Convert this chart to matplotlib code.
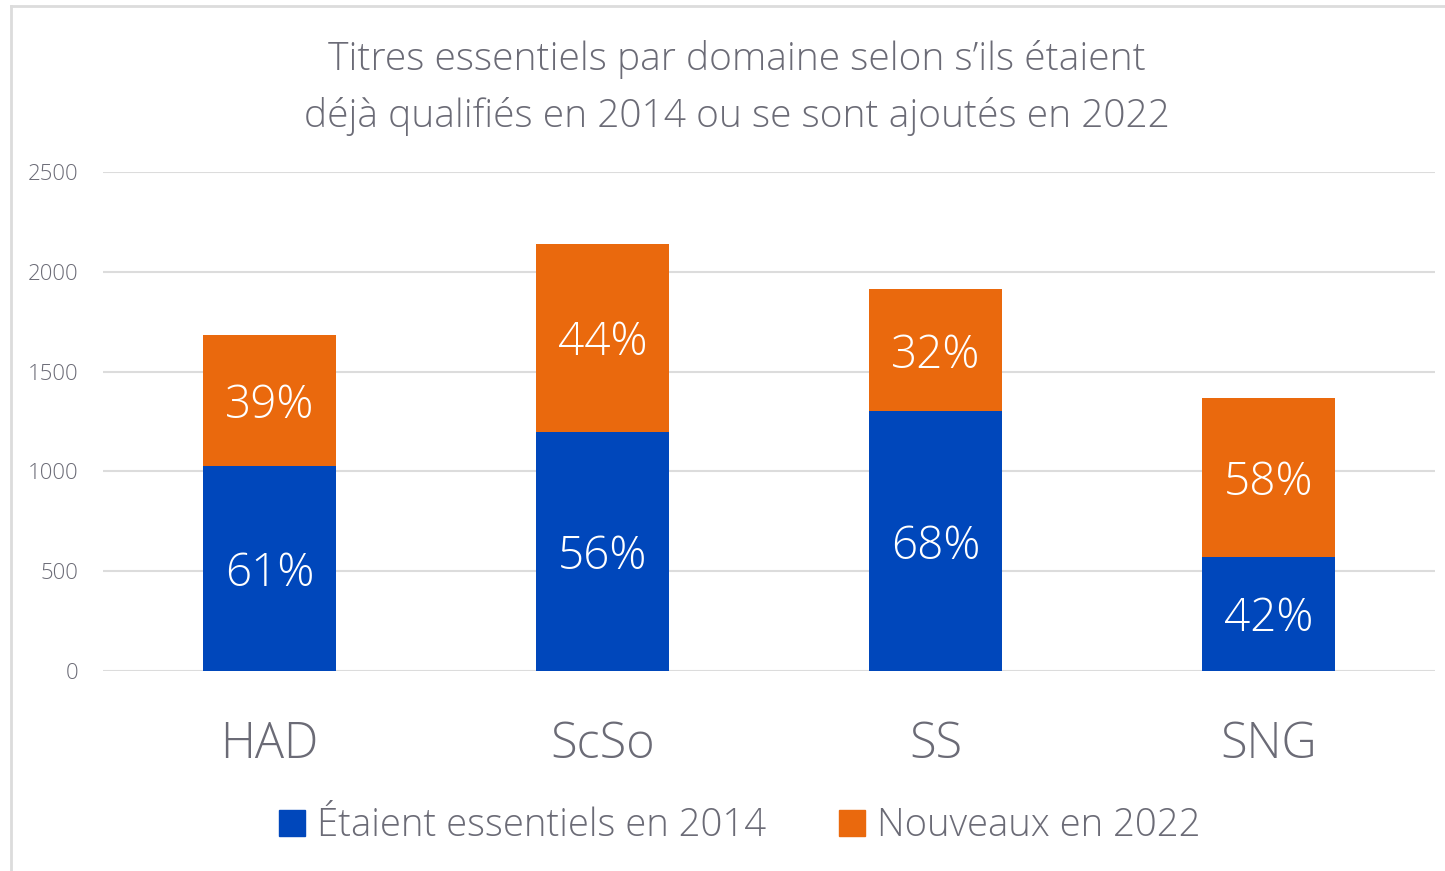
import matplotlib
matplotlib.use("Agg")
import matplotlib.pyplot as plt
from matplotlib.lines import Line2D
from matplotlib.patches import Patch

categories = ["HAD", "ScSo", "SS", "SNG"]
essentiels_2014 = [1025, 1198, 1302, 573]
nouveaux_2022 = [660, 942, 612, 795]
pct_2014 = ["61%", "56%", "68%", "42%"]
pct_2022 = ["39%", "44%", "32%", "58%"]
yticks = [0, 500, 1000, 1500, 2000, 2500]

BLUE = "#0047BB"
ORANGE = "#EA690D"
TXT = "#6B6B76"
GRID = "#DCDCDC"

plt.rcParams['font.family'] = ['Open Sans', 'DejaVu Sans']
plt.rcParams['font.weight'] = 'light'

fig = plt.figure(figsize=(14.45, 8.71), dpi=100)
ax = fig.add_axes([103/1445, 1-671/871, (1435-103)/1445, (671-172)/871])

x = range(len(categories))
ax.bar(x, essentiels_2014, width=0.4, color=BLUE, zorder=3)
ax.bar(x, nouveaux_2022, width=0.4, bottom=essentiels_2014, color=ORANGE, zorder=3)

for i in x:
    ax.text(i, essentiels_2014[i] / 2, pct_2014[i], ha='center', va='center_baseline',
            color='white', fontsize=33, fontweight='light', zorder=4)
    ax.text(i, essentiels_2014[i] + nouveaux_2022[i] / 2, pct_2022[i], ha='center', va='center_baseline',
            color='white', fontsize=33, fontweight='light', zorder=4)

ax.set_xlim(-0.5, 3.5)
ax.set_ylim(0, 2500)
ax.set_yticks(yticks)
ax.set_yticklabels([str(v) for v in yticks], fontsize=16, color=TXT)
ax.set_xticks(list(x))
ax.set_xticklabels(categories, fontsize=35, color=TXT)
ax.tick_params(axis='both', length=0)
ax.tick_params(axis='y', pad=18)
ax.tick_params(axis='x', pad=35)
ax.grid(axis='y', color=GRID, linewidth=1.5, zorder=0)
for s in ax.spines.values():
    s.set_visible(False)

fig.text(737/1445, 1-88/871, "Titres essentiels par domaine selon s\u2019ils \u00e9taient\nd\u00e9j\u00e0 qualifi\u00e9s en 2014 ou se sont ajout\u00e9s en 2022",
         ha='center', va='center', fontsize=28, color=TXT, linespacing=1.58)

handles = [Patch(color=BLUE), Patch(color=ORANGE)]
fig.legend(handles, ["\u00c9taient essentiels en 2014", "Nouveaux en 2022"],
           loc='center', bbox_to_anchor=(740/1445, 1-826/871), ncol=2, frameon=False,
           fontsize=27.5, labelcolor=TXT, handlelength=0.68, handleheight=0.68,
           handletextpad=0.32, columnspacing=1.9)

# partial frame (top and left)
fig.add_artist(Line2D([11/1445, 11/1445], [0, 1-6/871], color=GRID, linewidth=2, transform=fig.transFigure))
fig.add_artist(Line2D([11/1445, 1], [1-6/871, 1-6/871], color=GRID, linewidth=2, transform=fig.transFigure))

fig.savefig("out.png", dpi=100)
